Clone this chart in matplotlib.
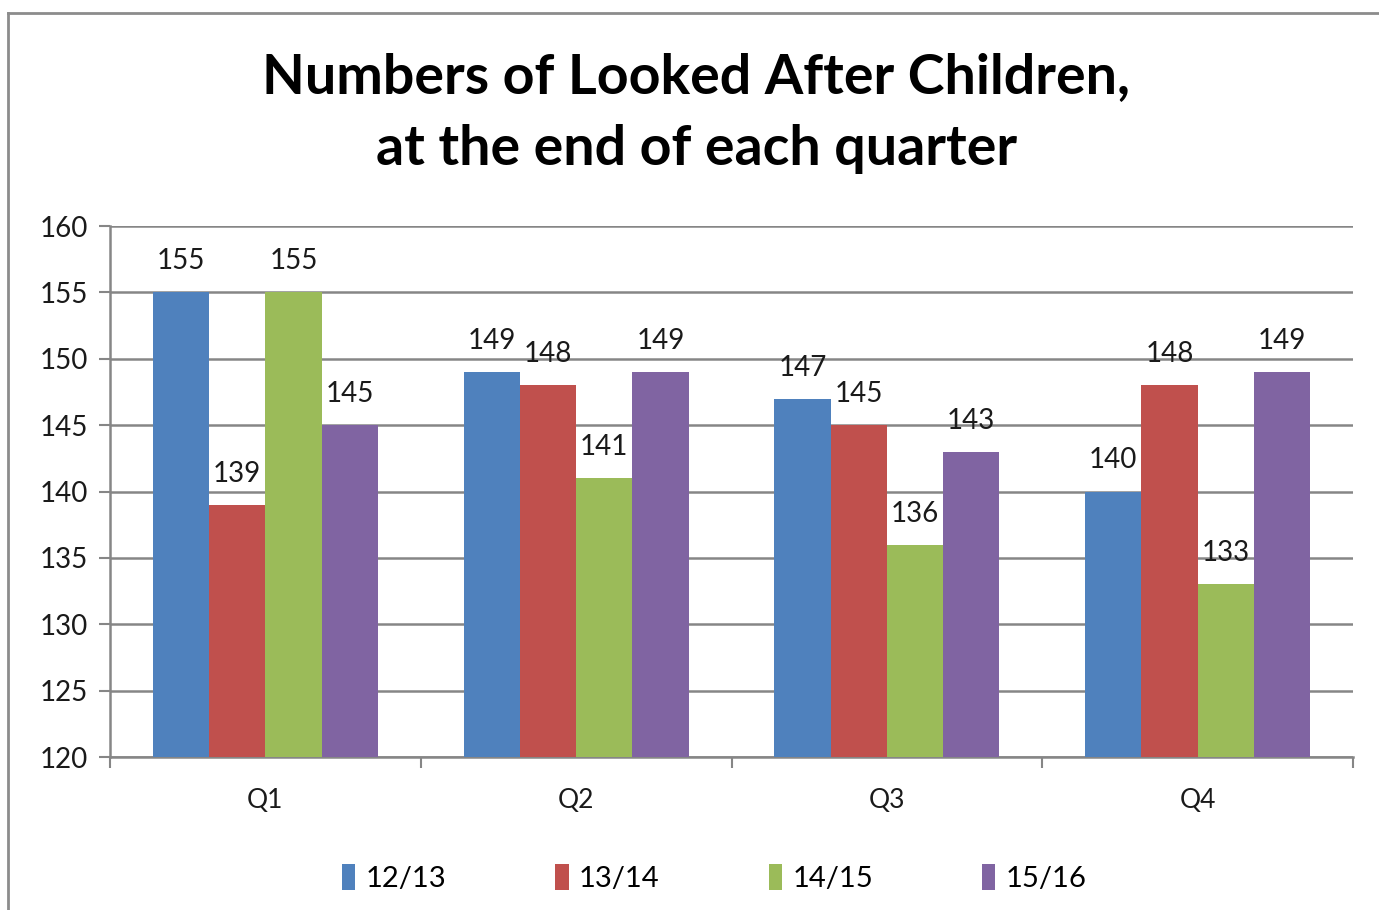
import matplotlib.pyplot as plt
import numpy as np
from matplotlib.lines import Line2D

# data
quarters = ["Q1", "Q2", "Q3", "Q4"]
series = ["12/13", "13/14", "14/15", "15/16"]
v_1213 = [155, 149, 147, 140]
v_1314 = [139, 148, 145, 148]
v_1415 = [155, 141, 136, 133]
v_1516 = [145, 149, 143, 149]
colors = ["#4F81BD", "#C0504D", "#9BBB59", "#8064A2"]

plt.rcParams['font.family'] = ['Lato', 'DejaVu Sans']

fig = plt.figure(figsize=(13.79, 9.1), dpi=100)
ax = fig.add_axes([0.0798, 0.1681, 0.9014, 0.5835])

x = np.arange(len(quarters))
w = 0.181
all_vals = [v_1213, v_1314, v_1415, v_1516]
for i, vals in enumerate(all_vals):
    pos = x + (i - 1.5) * w
    bars = ax.bar(pos, np.array(vals) - 120, width=w, bottom=120,
                  color=colors[i], label=series[i], zorder=3)
    for b, v in zip(bars, vals):
        ax.annotate(str(v), (b.get_x() + b.get_width() / 2, v),
                    xytext=(0, 13), textcoords='offset points',
                    ha='center', va='bottom', fontsize=20, color='#1a1a1a')

ax.set_ylim(120, 160)
ax.set_yticks(range(120, 161, 5))
ax.set_xlim(-0.5, 3.5)
ax.set_xticks(np.arange(-0.5, 4, 1))
ax.set_xticklabels([])
ax.set_xticks(x, minor=True)
ax.set_xticklabels(quarters, minor=True)
ax.tick_params(axis='x', which='minor', length=0, pad=22, labelsize=19, labelcolor='#1a1a1a')
ax.tick_params(axis='x', which='major', length=8, width=1.5, color='#868686')
ax.tick_params(axis='y', length=8, width=1.5, color='#868686', labelsize=20,
               labelcolor='#1a1a1a', pad=8)

ax.grid(axis='y', color='#868686', linewidth=1.8, zorder=0)
for s in ['top', 'right']:
    ax.spines[s].set_visible(False)
for s in ['left', 'bottom']:
    ax.spines[s].set_color('#868686')
    ax.spines[s].set_linewidth(1.8)

fig.text(0.505, 0.876, "Numbers of Looked After Children,\nat the end of each quarter",
         ha='center', va='center', fontsize=40, fontweight='bold',
         linespacing=1.55, color='black')

leg = fig.legend(loc='center', bbox_to_anchor=(0.518, 0.035), ncol=4, frameon=False,
                 fontsize=21, handlelength=0.45, handleheight=1.0,
                 handletextpad=0.35, columnspacing=3.75)

# chart-area border (left and top edges visible)
fig.add_artist(Line2D([0.006, 0.006], [0, 0.986], color='#8c8c8c', linewidth=2,
                      transform=fig.transFigure))
fig.add_artist(Line2D([0.006, 1.0], [0.986, 0.986], color='#8c8c8c', linewidth=2,
                      transform=fig.transFigure))

fig.savefig("out.png", dpi=100)
